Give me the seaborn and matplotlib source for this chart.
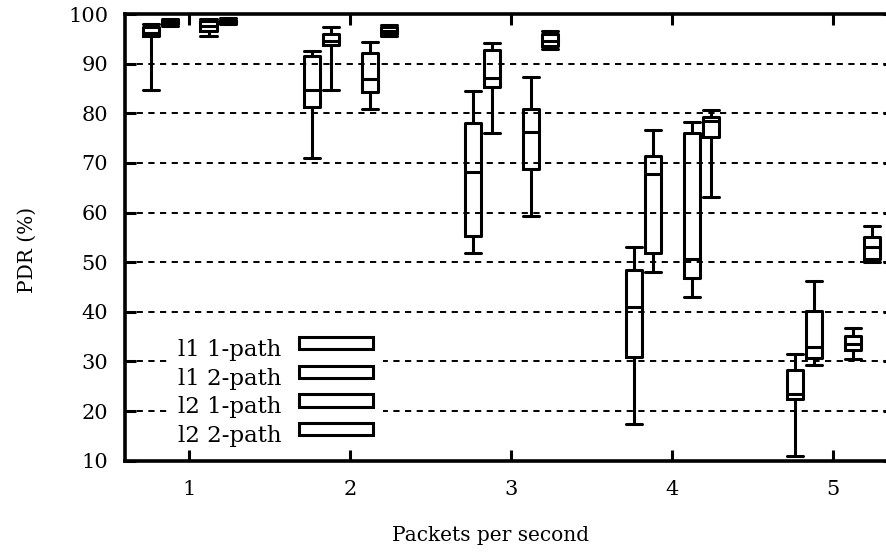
import matplotlib
matplotlib.use("Agg")
import matplotlib.pyplot as plt
import matplotlib.patches as mpatches
from matplotlib.legend_handler import HandlerPatch
import pandas as pd
import seaborn as sns

# Packet rates on the x axis and the four configurations compared at each rate
rates = [1, 2, 3, 4, 5]
series_names = ["l1 1-path", "l1 2-path", "l2 1-path", "l2 2-path"]

# Five-number summaries of PDR (%) per rate: (min, q1, median, q3, max)
l1_1path = [
    (84.7, 95.6, 96.2, 97.4, 98.0),
    (71.1, 81.2, 84.7, 91.5, 92.6),
    (51.8, 55.3, 68.1, 78.1, 84.6),
    (17.4, 30.8, 41.0, 48.4, 53.1),
    (11.0, 22.4, 23.4, 28.3, 31.5),
]
l1_2path = [
    (97.7, 98.1, 98.5, 98.8, 99.1),
    (84.7, 93.8, 94.6, 96.0, 97.3),
    (76.0, 85.4, 87.1, 92.8, 94.1),
    (48.1, 51.9, 67.7, 71.4, 76.6),
    (29.3, 30.6, 33.0, 40.2, 46.3),
]
l2_1path = [
    (95.5, 96.6, 97.6, 98.6, 99.1),
    (80.9, 84.4, 86.9, 92.2, 94.4),
    (59.3, 68.7, 76.3, 80.8, 87.3),
    (43.0, 46.8, 50.6, 76.1, 78.3),
    (30.4, 32.3, 33.6, 35.2, 36.7),
]
l2_2path = [
    (98.0, 98.3, 98.6, 98.9, 99.2),
    (95.6, 96.0, 96.6, 97.3, 97.8),
    (92.9, 93.6, 94.6, 96.0, 96.6),
    (63.1, 75.3, 78.5, 79.2, 80.7),
    (50.0, 50.6, 53.1, 55.1, 57.2),
]
y_ticks = [10, 20, 30, 40, 50, 60, 70, 80, 90, 100]

# Horizontal placement of each configuration around its packet rate
series_offsets = [-0.24, -0.12, 0.12, 0.24]

rows = []
for name, off, summaries in zip(series_names, series_offsets,
                                [l1_1path, l1_2path, l2_1path, l2_2path]):
    for rate, summary in zip(rates, summaries):
        for v in summary:
            rows.append({"pos": round(rate + off, 2), "pdr": v, "series": name})
df = pd.DataFrame(rows)

sns.set_style("ticks")
plt.rcParams.update({
    "font.family": ["DejaVu Serif"],
    "font.size": 14.5,
    "text.color": "black",
    "axes.labelcolor": "black",
    "xtick.color": "black",
    "ytick.color": "black",
    "axes.edgecolor": "black",
})

W, H = 887, 553
fig = plt.figure(figsize=(W / 100, H / 100), dpi=100)
left_px, right_px, top_px, bottom_px = 124.8, 894.5, 14.1, 460.7
ax = fig.add_axes([left_px / W, 1 - bottom_px / H,
                   (right_px - left_px) / W, (bottom_px - top_px) / H])

box_width = 0.1
sns.boxplot(
    data=df, x="pos", y="pdr", hue="series", hue_order=series_names,
    palette=["black"] * len(series_names), native_scale=True, dodge=False,
    fill=False, width=box_width / 0.12, whis=(0, 100), linewidth=2.2,
    legend=False, capwidths=box_width, ax=ax,
)

ax.set_xlim(0.6, 5.38)
ax.set_ylim(10, 100)
ax.set_xticks(rates)
ax.set_xticklabels([str(r) for r in rates])
ax.set_yticks(y_ticks)
ax.set_yticklabels([str(t) for t in y_ticks])

# Dashed horizontal guides sit beneath the key, the key beneath the tick marks
ax.set_axisbelow(True)
ax.grid(False)
for t in y_ticks[1:-1]:
    ax.axhline(t, linestyle=(0, (3.2, 2.8)), color="black", linewidth=1.4,
               zorder=0.3)

for sp in ax.spines.values():
    sp.set_visible(True)
    sp.set_linewidth(2.6)
    sp.set_color("black")
ax.tick_params(direction="in", length=8.2, width=2.2, top=True, right=True,
               labelsize=15)
ax.tick_params(axis="x", pad=13.6)
ax.tick_params(axis="y", pad=11.9)

ax.set_xlabel("Packets per second", fontsize=14.5)
ax.set_ylabel("PDR (%)", fontsize=14.5)
ax.xaxis.set_label_coords(0.475, -0.146)
ax.yaxis.set_label_coords(-0.114, 0.472)


def raised_box(legend, orig_handle, xdescent, ydescent, width, height, fontsize):
    return mpatches.Rectangle((-xdescent, -ydescent + 0.2 * fontsize), width, height)


handles = [mpatches.Patch(facecolor="white", edgecolor="black", linewidth=2.2)
           for _ in series_names]
leg = ax.legend(
    handles, series_names, loc="lower right", bbox_to_anchor=(0.3355, 0.008),
    frameon=True, fancybox=False, facecolor="white", edgecolor="none",
    framealpha=1.0, markerfirst=False, handlelength=3.2, handleheight=0.44,
    handletextpad=0.79, labelspacing=0.29, borderpad=0.45, borderaxespad=0,
    fontsize=16.5, handler_map={mpatches.Patch: HandlerPatch(patch_func=raised_box)},
)
leg.get_frame().set_linewidth(0)
leg.set_zorder(0.4)

fig.savefig("out.png", dpi=100)
